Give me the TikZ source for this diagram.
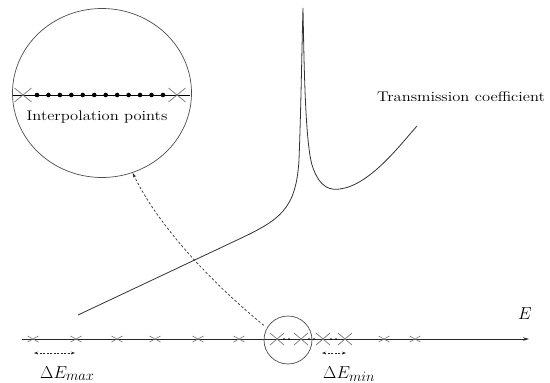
\documentclass[tikz,border=0pt]{standalone}
\usepackage{graphicx}
\usetikzlibrary{arrows.meta,shapes.geometric}
\DeclareMathSizes{18}{18}{15}{12}
\begin{document}
\begin{tikzpicture}[x=1pt,y=-1pt,
  curve/.style={black!80, line width=0.8pt},
  ring/.style={draw=black!70, line width=0.7pt, inner sep=0pt},
  smallx/.pic={\draw[black!55, line width=0.6pt] (-5.5,-3)--(5.5,3) (-5.5,3)--(5.5,-3);},
  bigx/.pic={\draw[black!55, line width=0.7pt] (-7,-6)--(7,6) (-7,6)--(7,-6);},
  hugex/.pic={\draw[black!55, line width=0.7pt] (-8.5,-7)--(8.5,7) (-8.5,7)--(8.5,-7);},
  lbl/.style={inner sep=0pt},
  tip/.style={-{Stealth[length=6pt,width=3.5pt]}},
  dtip/.style={dashed, dash pattern=on 2pt off 1.5pt, black!85, line width=0.7pt,
    {Stealth[length=4pt,width=2.8pt]}-{Stealth[length=4pt,width=2.8pt]}}
]
\useasboundingbox (0,0) rectangle (550,383);

% magnified circle
\node[ring, ellipse, minimum width=179pt, minimum height=169pt] (bigc) at (102,93) {};
\coordinate (il0) at (13,95);
\coordinate (il1) at (190,95);
\draw[black, line width=0.9pt] (il0) -- (il1);
\pic at (23,95) {hugex};
\pic at (177,95) {hugex};
\foreach \i in {0,...,11} \fill[black] (37+\i*11.45,95) circle (2.3pt);
\node[lbl] (ip) at (97,117) {\scalebox{1.18}[1]{\fontsize{14}{17}\selectfont Interpolation points}};

% transmission curve
\draw[curve] (78,315) -- (235,241) .. controls (280,220) and (296,210) .. (299,160)
  .. controls (301,110) and (302,40) .. (303,8)
  .. controls (304,60) and (305,140) .. (312,165)
  .. controls (320,190) and (332,190) .. (340,189)
  .. controls (370,185) and (400,145) .. (417,126);
\node[lbl] (tc) at (461,97) {\scalebox{1.18}[1]{\fontsize{14}{17}\selectfont Transmission coefficient}};

% energy axis
\coordinate (ax0) at (22,339);
\coordinate (ax1) at (529,339);
\draw[black!85, line width=0.8pt, tip] (ax0) -- (ax1);
\node[lbl] (elab) at (525,314) {\fontsize{18}{22}\selectfont$E$};

\foreach \x in {33,76,117,155,198,239,384,415} \pic at (\x,339) {smallx};
\foreach \x in {277,301,323,345} \pic at (\x,339) {bigx};
\foreach \x in {284,289,309,314,331,336} \fill[black] (\x,339) circle (0.9pt);

% small circle and link
\node[ring, circle, minimum size=48pt] (smallc) at (288,340) {};
\draw[black!80, line width=0.7pt, dashed, dash pattern=on 2.5pt off 2pt,
  shorten <=4pt, -{Stealth[length=5pt,width=3pt]}]
  (smallc.150) .. controls (220,290) and (160,230) .. (bigc.-69);

% spacing marks
\coordinate (mx0) at (34,353);
\coordinate (mx1) at (75,353);
\draw[dtip] (mx0) -- (mx1);
\coordinate (mn0) at (322,353);
\coordinate (mn1) at (346,353);
\draw[dtip] (mn0) -- (mn1);
\node[lbl, anchor=base west] (dmax) at (40,378) {\fontsize{18}{22}\selectfont$\Delta E_{max}$};
\node[lbl, anchor=base west] (dmin) at (323,378) {\fontsize{18}{22}\selectfont$\Delta E_{min}$};
\end{tikzpicture}
\end{document}
